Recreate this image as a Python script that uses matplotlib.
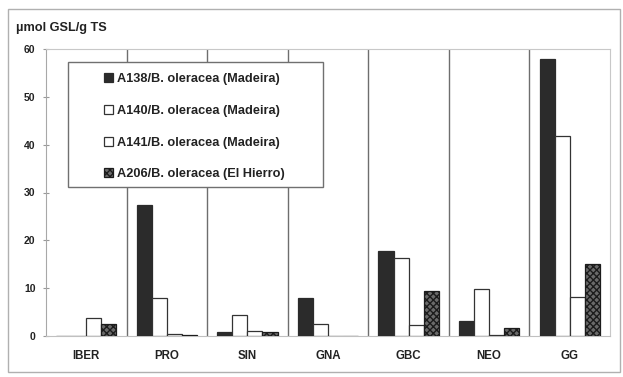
import matplotlib
matplotlib.use("Agg")
import matplotlib.pyplot as plt
from matplotlib.patches import Rectangle
import numpy as np

categories = ["IBER", "PRO", "SIN", "GNA", "GBC", "NEO", "GG"]
series_labels = [
    "A138/B. oleracea (Madeira)",
    "A140/B. oleracea (Madeira)",
    "A141/B. oleracea (Madeira)",
    "A206/B. oleracea (El Hierro)",
]
a138 = [0.0, 27.3, 0.8, 7.9, 17.7, 3.1, 57.9]
a140 = [0.0, 7.9, 4.4, 2.6, 16.3, 9.8, 41.9]
a141 = [3.8, 0.5, 1.1, 0.0, 2.2, 0.2, 8.1]
a206 = [2.5, 0.3, 0.9, 0.0, 9.5, 1.7, 15.1]
y_ticks = [0, 10, 20, 30, 40, 50, 60]

plt.rcParams["font.family"] = ["Liberation Sans", "DejaVu Sans"]
plt.rcParams["hatch.linewidth"] = 1.0

W, H = 623, 377
fig = plt.figure(figsize=(W / 100, H / 100), dpi=100)

# outer frame of the figure
fig.patches.append(Rectangle((8 / W, 5 / H), 612 / W, 363 / H, transform=fig.transFigure,
                             fill=False, edgecolor="#b0b0b0", linewidth=1.0))

ax = fig.add_axes([46 / W, (H - 336) / H, (610 - 46) / W, (336 - 49) / H])
ax.set_xlim(-0.5, len(categories) - 0.5)
ax.set_ylim(0, 60)

x = np.arange(len(categories))
bw = 0.187
offsets = np.array([-1.5, -0.5, 0.5, 1.5]) * bw
styles = [
    dict(facecolor="#2b2b2b", edgecolor="#2b2b2b"),
    dict(facecolor="white", edgecolor="#333333"),
    dict(facecolor="white", edgecolor="#333333"),
    dict(facecolor="#6a6a6a", edgecolor="#1c1c1c", hatch="xxxxx"),
]
handles = []
for vals, off, st, lab in zip([a138, a140, a141, a206], offsets, styles, series_labels):
    b = ax.bar(x + off, vals, width=bw, linewidth=0.9, label=lab, zorder=3, **st)
    handles.append(b)

# category separators
for k in range(1, len(categories)):
    ax.axvline(k - 0.5, color="#6e6e6e", linewidth=1.0, zorder=2)

for side in ["top", "right"]:
    ax.spines[side].set_color("#c8c8c8")
    ax.spines[side].set_linestyle((0, (2, 1)))
ax.spines["left"].set_color("#a8a8a8")
ax.spines["bottom"].set_color("#c0c0c0")

ax.set_yticks(y_ticks)
ax.set_yticklabels([str(v) for v in y_ticks], fontsize=7.5, fontweight="bold", color="#222222")
ax.tick_params(axis="y", direction="inout", length=5, width=0.8, color="#999999", pad=5)
ax.set_xticks(x)
ax.set_xticklabels(categories, fontsize=8.3, fontweight="bold", color="#222222")
ax.tick_params(axis="x", length=0, pad=10)

fig.text(16 / W, 1 - 28 / H, "µmol GSL/g TS", fontsize=9.2, fontweight="bold",
         color="#222222", va="center", ha="left")

# legend box
fig.patches.append(Rectangle((68 / W, (H - 187) / H), (323 - 68) / W, (187 - 62) / H,
                             transform=fig.transFigure, facecolor="white",
                             edgecolor="#707070", linewidth=1.0, zorder=5))
leg = fig.legend(handles=handles, labels=series_labels, loc="upper left",
                 bbox_to_anchor=(104 / W, 1 - 73 / H), frameon=False,
                 prop=dict(size=9.2, weight="bold"), handlelength=0.7, handleheight=0.7,
                 handletextpad=0.3, labelspacing=1.55, borderaxespad=0, borderpad=0)
leg.set_zorder(6)
for t in leg.get_texts():
    t.set_color("#222222")

fig.savefig("out.png", dpi=100)
